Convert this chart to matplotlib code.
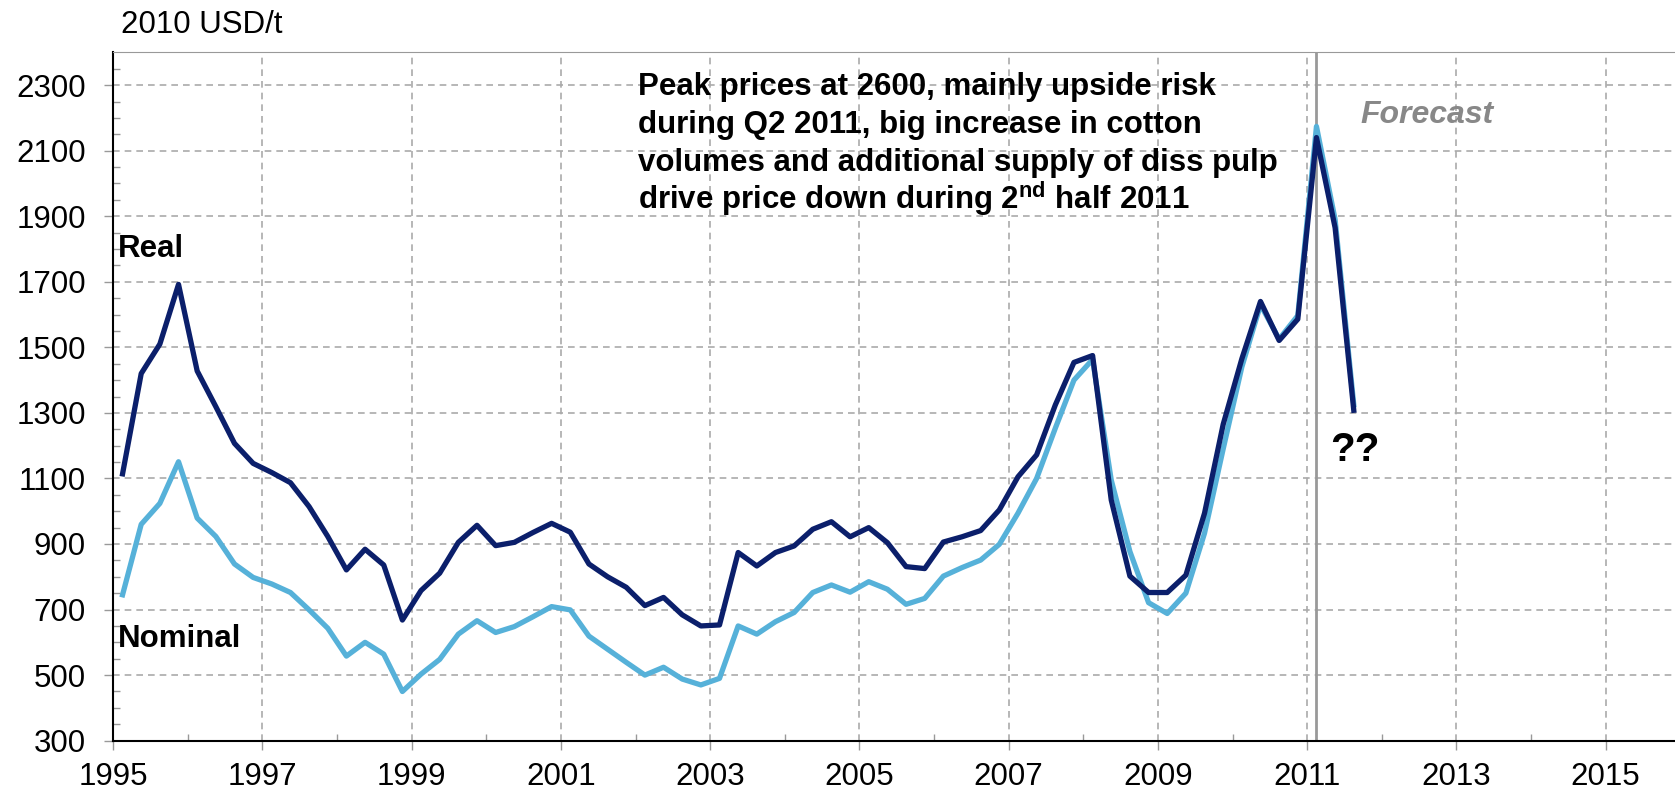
import matplotlib.pyplot as plt

plt.rcParams['font.family'] = ['Liberation Sans', 'DejaVu Sans']
plt.rcParams['mathtext.fontset'] = 'custom'
plt.rcParams['mathtext.bf'] = 'Liberation Sans:bold'
plt.rcParams['mathtext.rm'] = 'Liberation Sans'

# quarterly prices, Q1 1995 .. Q3 2011
quarters = [y + (q - 0.5) / 4 for y in range(1995, 2012) for q in range(1, 5)][:67]

real = [1114, 1420, 1510, 1692, 1428, 1319, 1207, 1146,
        1118, 1087, 1014, 923, 821, 884, 836, 668,
        758, 811, 905, 957, 895, 905, 935, 963,
        936, 839, 800, 768, 712, 737, 684, 650,
        653, 874, 833, 874, 894, 945, 968, 922,
        950, 904, 831, 825, 906, 922, 941, 1004,
        1105, 1172, 1324, 1454, 1475, 1034, 802, 752,
        752, 805, 994, 1265, 1465, 1640, 1521, 1586,
        2140, 1865, 1308]

nominal = [745, 960, 1024, 1151, 979, 923, 839, 798,
           778, 752, 699, 643, 558, 600, 564, 450,
           503, 548, 625, 666, 630, 648, 678, 709,
           699, 619, 579, 539, 500, 524, 488, 470,
           490, 650, 625, 663, 691, 752, 775, 753,
           785, 762, 716, 734, 802, 828, 851, 899,
           994, 1100, 1253, 1400, 1463, 1095, 877, 721,
           688, 750, 933, 1190, 1440, 1630, 1525, 1597,
           2174, 1890, 1325]

major_years = list(range(1995, 2016, 2))
minor_years = list(range(1996, 2016, 2))
y_ticks = list(range(300, 2301, 200))
forecast_start = 2011.125

note_lines = ['Peak prices at 2600, mainly upside risk',
              'during Q2 2011, big increase in cotton',
              'volumes and additional supply of diss pulp',
              'drive price down during 2$^{\\mathbf{nd}}$ half 2011']

fig = plt.figure(figsize=(16.75, 7.93), dpi=100)
ax = fig.add_axes([0.0676, 0.066, 0.9324, 0.868])

ax.plot(quarters, nominal, color='#56b1d9', lw=3.8, zorder=3)
ax.plot(quarters, real, color='#0b1f6b', lw=3.8, zorder=4)
ax.axvline(forecast_start, color='#999999', lw=2, zorder=2)

ax.set_xlim(1995, 2015.93)
ax.set_ylim(300, 2400)
ax.set_xticks(major_years)
ax.set_xticks(minor_years, minor=True)
ax.set_yticks(y_ticks)
ax.set_yticks(range(300, 2400, 50), minor=True)

ax.grid(True, which='major', color='#aaaaaa', ls=(0, (4, 3)), lw=1.2)
ax.tick_params(which='major', direction='out', length=6.7, width=1, color='#999999',
               labelsize=22.5)
ax.tick_params(axis='y', which='major', pad=13)
ax.tick_params(axis='x', which='major', pad=9)
ax.tick_params(which='minor', direction='in', length=5.3, width=1, color='#999999')

for s in ['left', 'bottom']:
    ax.spines[s].set_color('black')
    ax.spines[s].set_linewidth(1.5)
ax.spines['top'].set_color('#999999')
ax.spines['right'].set_visible(False)

fig.text(0.072, 0.968, '2010 USD/t', fontsize=22.5, va='center', ha='left')

ax.text(1995.06, 1800, 'Real', fontsize=22.5, fontweight='bold', va='center')
ax.text(1995.06, 610, 'Nominal', fontsize=22.5, fontweight='bold', va='center')
ax.text(2011.71, 2208, 'Forecast', fontsize=23, fontweight='bold', style='italic',
        color='#888888', va='center')
ax.text(2011.31, 1186, '??', fontsize=29, fontweight='bold', va='center')

for i, line in enumerate(note_lines):
    ax.text(2002.03, 2271 - 116 * i, line, fontsize=22.5, fontweight='bold',
            va='baseline', ha='left', zorder=5)

fig.savefig('out.png', dpi=100)
